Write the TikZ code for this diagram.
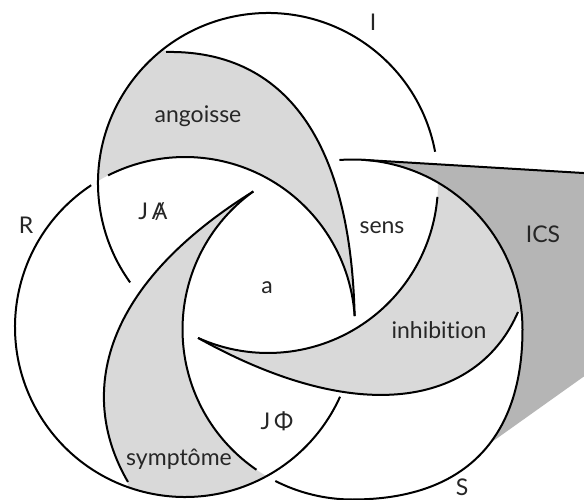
\documentclass[tikz,border=0pt]{standalone}
\usepackage{fontspec}
\setmainfont{Lato}[Ligatures={NoCommon,NoRare}]
\usetikzlibrary{calc}
\newcommand{\barA}{\ooalign{A\cr\hidewidth/\hidewidth\cr}}

\begin{document}
\begin{tikzpicture}[x=1pt, y=1pt, ring/.style = {line width=2pt}, zone/.style = {fill=gray!30}, ics/.style = {fill=gray!58}, lbl/.style = {inner sep=0pt, text=black!85, font=\fontsize{23}{27}\selectfont}]
    \useasboundingbox (0,0) rectangle (584,499);
    \fill[white] (0,0) rectangle (584,499);
    % centres of the three rings
    \coordinate (I) at (268,316);
    \coordinate (R) at (185,172);
    \coordinate (S) at (352.5,169.5);
    % tips of the three lunes
    \coordinate (angTip) at ($(R)+(3.7:170)$);
    \coordinate (symTip) at ($(S)+(125.7:170)$);
    \coordinate (inhTip) at ($(I)+(245.7:170)$);
    % shading
    \fill[ics] ($(S)+(86.7:170)$) -- (600,325) -- (600,134) -- (482,50) -- (S) -- cycle;
    \fill[white] ($(S)+(0:170)$) arc[start angle=0, end angle=270, radius=170] .. controls +(110.5,0) and +(0,-110.5) .. ($(S)+(0:170)$) -- cycle;
    \fill[zone] ($(I)+(128:170)$) -- (166,447) .. controls (270,449) and (350,379) .. (angTip)
        arc[start angle=3.7, end angle=120.8, radius=170]
        arc[start angle=179.3, end angle=128, radius=170] -- cycle;
    \fill[zone] ($(R)+(250.2:170)$) -- (128,17) .. controls (80,99) and (95,209) .. (symTip)
        arc[start angle=125.7, end angle=239.6, radius=170]
        arc[start angle=298.7, end angle=250.2, radius=170] -- cycle;
    \fill[zone] ($(S)+(6:170)$) -- (518,187) .. controls (480,99) and (367,67) .. (inhTip)
        arc[start angle=245.7, end angle=359.8, radius=170]
        arc[start angle=59.8, end angle=6, radius=170] -- cycle;
    % ring I
    \draw[ring] ($(I)+(10.6:170)$) arc[start angle=10.6, end angle=215.8, radius=170];
    \draw[ring] (inhTip) arc[start angle=245.7, end angle=355.3, radius=170];
    % ring R
    \draw[ring] ($(R)+(123.5:170)$) arc[start angle=123.5, end angle=335.8, radius=170];
    \draw[ring] (angTip) arc[start angle=3.7, end angle=116.9, radius=170];
    % ring S
    \draw[ring] (symTip) arc[start angle=125.7, end angle=235.6, radius=170];
    \draw[ring] ($(S)+(243:170)$) arc[start angle=243, end angle=270, radius=170]
        .. controls +(110.5,0) and +(0,-110.5) .. ++(170,170)
        arc[start angle=0, end angle=94.4, radius=170];
    \draw[ring] ($(S)+(86.7:170)$) -- (600,325);
    % inner curves
    \draw[ring] (166,447) .. controls (270,449) and (350,379) .. (angTip);
    \draw[ring] (128,17) .. controls (80,99) and (95,209) .. (symTip);
    \draw[ring] (518,187) .. controls (480,99) and (367,67) .. (inhTip);
    % labels
    \node[lbl] (labI) at (373,477) {I};
    \node[lbl] (labR) at (26,274) {R};
    \node[lbl] (labS) at (462,12) {S};
    \node[lbl] (ics) at (543,265) {ICS};
    \node[lbl] (angoisse) at (198,383) {angoisse};
    \node[lbl] (jA) at (153,287) {J\,\barA};
    \node[lbl] (a) at (267,211) {a};
    \node[lbl] (sens) at (382,271) {sens};
    \node[lbl] (inhibition) at (439,169) {inhibition};
    \node[lbl] (jPhi) at (277,78) {J\,Φ};
    \node[lbl] (symptome) at (179,40) {symptôme};
\end{tikzpicture}
\end{document}
